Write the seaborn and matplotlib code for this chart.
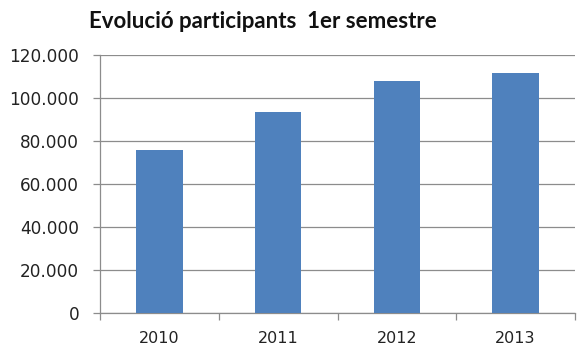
import matplotlib
matplotlib.use("Agg")
import matplotlib.pyplot as plt
import seaborn as sns
import pandas as pd
from matplotlib.ticker import FuncFormatter, FixedLocator

years = ["2010", "2011", "2012", "2013"]
participants = [76000, 93300, 108000, 111500]
title = "Evolució participants  1er semestre"

sns.set_style("white")
plt.rcParams['font.family'] = ['DejaVu Sans']

df = pd.DataFrame({"year": years, "participants": participants})

fig = plt.figure(figsize=(5.8, 3.56), dpi=100)
ax = fig.add_axes([100/580, 43/356, 475/580, 258/356])
sns.barplot(data=df, x="year", y="participants", color="#4F81BD", width=0.39,
            saturation=1, linewidth=0, ax=ax, zorder=3)
ax.set_ylim(0, 120000)
ax.set_xlim(-0.5, 3.5)
ax.set_yticks(range(0, 120001, 20000))
ax.yaxis.set_major_formatter(FuncFormatter(lambda v, p: f"{int(v):,}".replace(",", ".")))
ax.grid(axis="y", color="#8c8c8c", linewidth=0.9, zorder=0)
ax.set_xlabel("")
ax.set_ylabel("")
for s in ["top", "right"]:
    ax.spines[s].set_visible(False)
for s in ["left", "bottom"]:
    ax.spines[s].set_color("#8c8c8c")
    ax.spines[s].set_linewidth(0.9)
ax.tick_params(axis="y", which="major", length=5, color="#8c8c8c", width=0.9,
               labelsize=12.2, labelcolor="#222222", pad=10, direction="out", left=True)
ax.tick_params(axis="x", which="major", length=0, labelsize=11.5, labelcolor="#222222", pad=13)
ax.xaxis.set_minor_locator(FixedLocator([-0.5, 0.5, 1.5, 2.5, 3.5]))
ax.tick_params(axis="x", which="minor", length=5, color="#8c8c8c", width=0.9,
               direction="out", bottom=True)
fig.text(263/580, 1 - 22/356, title, ha="center", va="center",
         fontsize=16, fontweight="bold", color="#111111", family=["Lato", "DejaVu Sans"])
fig.savefig("out.png", dpi=100)
